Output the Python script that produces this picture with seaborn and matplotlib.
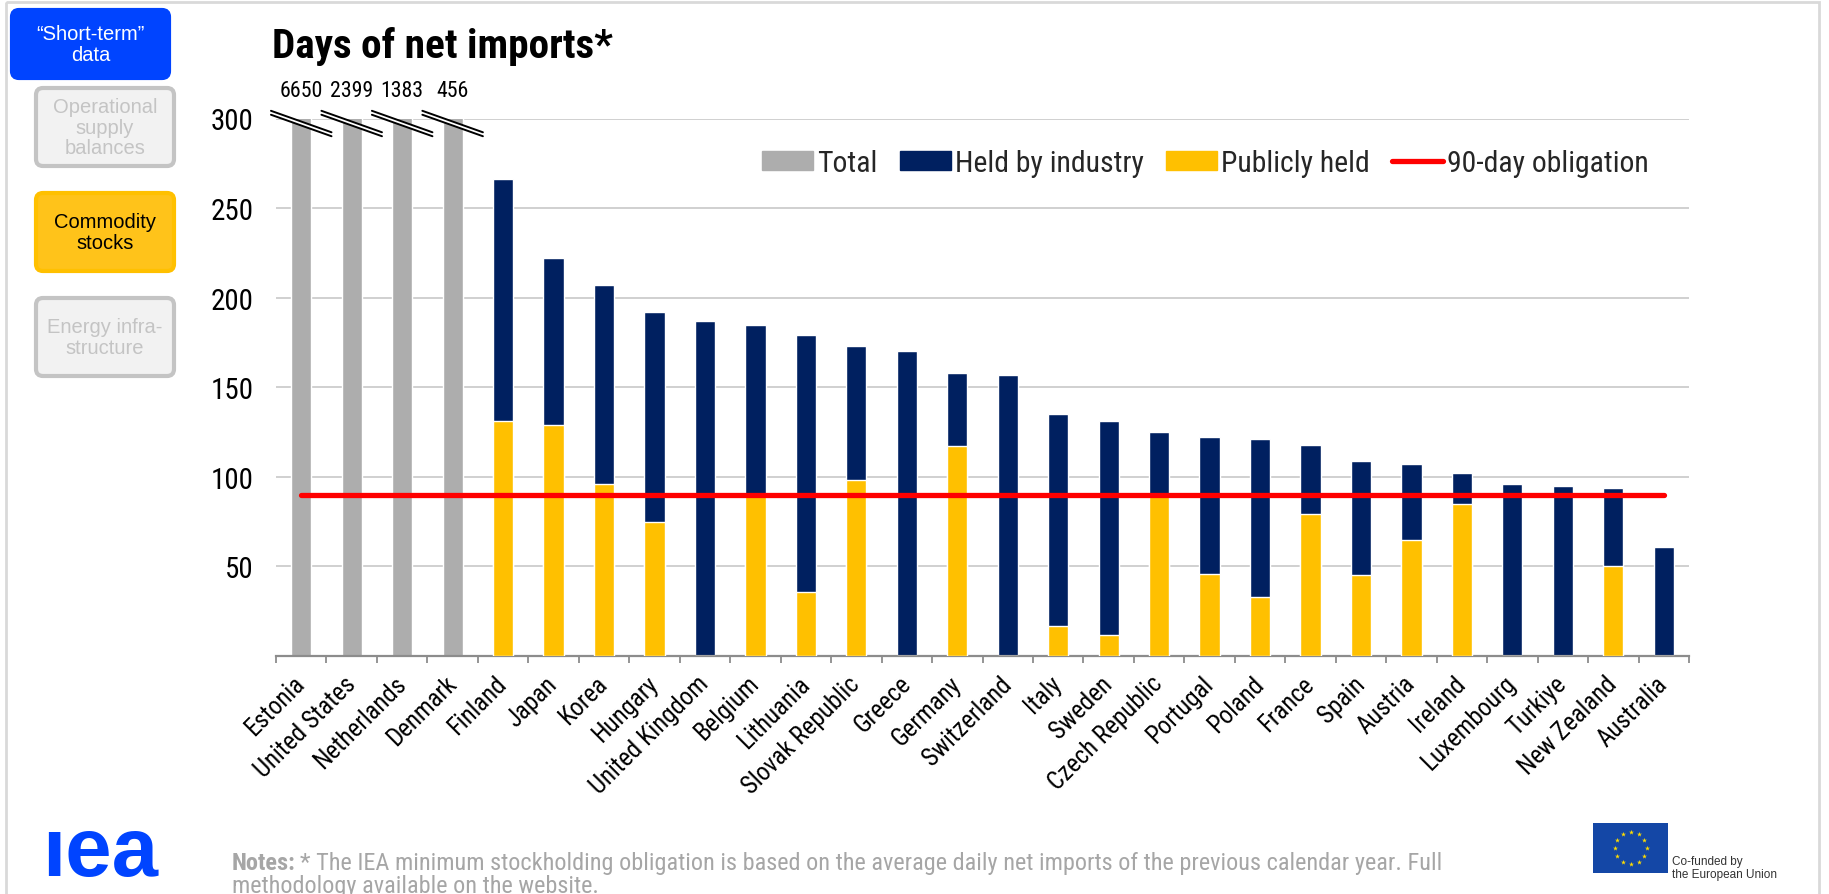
import numpy as np
import pandas as pd
import matplotlib
matplotlib.use("Agg")
import matplotlib.pyplot as plt
from matplotlib import font_manager as fm
from matplotlib.patches import FancyBboxPatch, Rectangle, Patch
from matplotlib.lines import Line2D
import seaborn as sns

# ---- data -------------------------------------------------------------
countries = ["Estonia", "United States", "Netherlands", "Denmark", "Finland",
             "Japan", "Korea", "Hungary", "United Kingdom", "Belgium",
             "Lithuania", "Slovak Republic", "Greece", "Germany", "Switzerland",
             "Italy", "Sweden", "Czech Republic", "Portugal", "Poland", "France",
             "Spain", "Austria", "Ireland", "Luxembourg", "Turkiye",
             "New Zealand", "Australia"]
total_days = [6650, 2399, 1383, 456, 266, 222, 207, 192, 187, 185, 179, 173,
              170, 158, 157, 135, 131, 125, 122, 121, 118, 109, 107, 102, 96,
              95, 94, 61]
# publicly held days (None = no industry/public split reported)
public_days = [None, None, None, None, 131, 129, 96, 75, 0, 90, 36, 98, 0,
               117, 0, 17, 12, 90, 46, 33, 79, 45, 65, 85, 0, 0, 50, 0]
obligation_days = 90
y_ticks = [50, 100, 150, 200, 250, 300]
y_cap = 300

legend_labels = ["Total", "Held by industry", "Publicly held", "90-day obligation"]

# ---- style --------------------------------------------------------------
GRAY = "#ADADAD"
NAVY = "#002060"
YELLOW = "#FFC000"
RED = "#FF0000"

sns.set_theme(style="white")
names = {f.name for f in fm.fontManager.ttflist}
narrow_pref = ["Liberation Sans Narrow", "Arial Narrow", "Roboto Condensed",
               "Archivo Narrow", "PT Sans Narrow", "Pragati Narrow",
               "Fira Sans Condensed", "IBM Plex Sans Condensed", "Liberation Sans"]
NARROW = next(f for f in narrow_pref if f in names)
NFAM = [NARROW, "DejaVu Sans"]
REG = ["Liberation Sans", "DejaVu Sans"]
plt.rcParams["font.family"] = NFAM

W, H = 1829, 895
fig = plt.figure(figsize=(W / 100, H / 100), dpi=100)
fig.patch.set_facecolor("white")
renderer = fig.canvas.get_renderer()


def fit_size(s, target_px, weight="normal", family=NFAM):
    """Font size (pt) at which string s is target_px wide."""
    t = fig.text(0, 0, s, fontsize=20, fontweight=weight, family=family)
    w = t.get_window_extent(renderer=renderer).width
    t.remove()
    return 20 * target_px / w


size_y = fit_size("300", 43)
size_x = fit_size("United Kingdom", 156)
size_leg = fit_size("Held by industry", 188)
size_val = fit_size("6650", 43)
size_title = fit_size("Days of net imports*", 340, weight="bold")

# overlay in pixel coordinates for page furniture
ov = fig.add_axes([0, 0, 1, 1], zorder=-1)
ov.set_xlim(0, W)
ov.set_ylim(H, 0)
ov.axis("off")

# main chart axes
ax_l, ax_r, ax_t, ax_b = 276, 1689, 119.5, 657
ax = fig.add_axes([ax_l / W, 1 - ax_b / H, (ax_r - ax_l) / W, (ax_b - ax_t) / H])
ax.set_facecolor("none")

df = pd.DataFrame({
    "country": countries,
    "total": total_days,
    "public": [np.nan if v is None else v for v in public_days],
})
df["kind"] = np.where(df["public"].isna(), "Total", "Held by industry")

sns.barplot(data=df, x="country", y="total", hue="kind", order=countries,
            hue_order=["Total", "Held by industry"],
            palette={"Total": GRAY, "Held by industry": NAVY},
            dodge=False, width=0.4, saturation=1, errorbar=None,
            legend=False, ax=ax, zorder=2)
sns.barplot(data=df.dropna(subset=["public"]), x="country", y="public",
            order=countries, color=YELLOW, width=0.4, saturation=1,
            errorbar=None, ax=ax, zorder=3)

n = len(countries)
ax.plot([0, n - 1], [obligation_days, obligation_days], color=RED, lw=3.8,
        solid_capstyle="round", zorder=4)

ax.set_xlim(-0.5, n - 0.5)
ax.set_ylim(0, y_cap)
ax.set_yticks(y_ticks)
ax.yaxis.grid(True, color="#C8C8C8", lw=1.2, zorder=0)
ax.xaxis.grid(False)
ax.set_axisbelow(True)
ax.set_xlabel("")
ax.set_ylabel("")
for s in ["top", "right", "left"]:
    ax.spines[s].set_visible(False)
ax.spines["bottom"].set_color("#8C8C8C")
ax.spines["bottom"].set_linewidth(1.6)
ax.tick_params(axis="y", length=0, pad=16, labelsize=size_y, labelcolor="black")
ax.tick_params(axis="x", which="major", length=0, pad=17, labelsize=size_x,
               labelcolor="black")
ax.set_xticks(np.arange(-0.5, n, 1.0), minor=True)
ax.tick_params(axis="x", which="minor", length=5, width=1.3, color="#8C8C8C",
               direction="out", bottom=True)
ax.set_xticks(range(n))
ax.set_xticklabels(countries, rotation=45, ha="right", va="center",
                   rotation_mode="anchor")

# axis-break marks and true values for bars that exceed the scale
for i, (v, p) in enumerate(zip(total_days, public_days)):
    if p is None and v > y_cap:
        xs = [i - 0.6, i + 0.6]
        ax.fill([i - 0.6, i + 0.6, i + 0.6, i - 0.6],
                [304.3, 292.3, 290.3, 302.3], color="white", zorder=5,
                clip_on=False, lw=0)
        ax.plot(xs, [304.3, 292.3], color="black", lw=1.4, zorder=6, clip_on=False)
        ax.plot(xs, [302.1, 290.1], color="black", lw=1.4, zorder=6, clip_on=False)
        ax.annotate(f"{v}", (i, y_cap), xytext=(0, 20), textcoords="offset points",
                    ha="center", va="center", fontsize=size_val, color="black",
                    annotation_clip=False)

handles = [Patch(color=GRAY), Patch(color=NAVY), Patch(color=YELLOW),
           Line2D([0], [0], color=RED, lw=3.8, solid_capstyle="round")]
ax.legend(handles, legend_labels, loc="center right", bbox_to_anchor=(0.98, 0.917),
          ncol=4, frameon=False, fontsize=size_leg, handlelength=1.7,
          handleheight=0.6, handletextpad=0.15, columnspacing=0.75,
          borderaxespad=0)

# ---- page furniture ---------------------------------------------------------
ov.add_patch(Rectangle((6, 3), 1813, 900, fill=False, ec="#D9D9D9", lw=2))

ov.text(272, 58, "Days of net imports*", fontsize=size_title, fontweight="bold",
        ha="left", va="baseline", color="black")

buttons = [
    ((12, 11, 157, 68), "#0044FF", "#0044FF", "\u201cShort-term\u201d\ndata", "white"),
    ((36, 89, 138, 78), "#F2F2F2", "#C4C4C4", "Operational\nsupply\nbalances", "#C4C4C4"),
    ((36, 194, 138, 78), "#FFC31A", "#FFC000", "Commodity\nstocks", "black"),
    ((36, 299, 138, 78), "#F2F2F2", "#C4C4C4", "Energy infra-\nstructure", "#C4C4C4"),
]
for (x, y, w, h), fc, ec, label, tc in buttons:
    ov.add_patch(FancyBboxPatch((x, y), w, h, boxstyle="round,pad=0,rounding_size=7",
                                fc=fc, ec=ec, lw=3))
    ov.text(x + w / 2, y + h / 2, label, ha="center", va="center", fontsize=14.5,
            color=tc, family=REG, linespacing=1.12)

# IEA wordmark
ov.text(42, 876, "\u0131ea", fontsize=60, fontweight="bold", color="#0044FF",
        family=REG, ha="left", va="baseline")

# notes
notes_color = "#A6A6A6"
notes_rest = ("* The IEA minimum stockholding obligation is based on the average "
              "daily net imports of the previous calendar year. Full")
size_notes = fit_size("Notes: " + notes_rest, 1205)
t1 = ov.text(232, 870, "Notes:", fontsize=size_notes, fontweight="bold",
             color=notes_color, ha="left", va="baseline")
bb = t1.get_window_extent(renderer=renderer)
ov.text(232 + bb.width + 4, 870, notes_rest, fontsize=size_notes,
        color=notes_color, ha="left", va="baseline")
ov.text(232, 893, "methodology available on the website.", fontsize=size_notes,
        color=notes_color, ha="left", va="baseline")

# EU co-funding mark
ov.add_patch(Rectangle((1593, 824), 75, 50, fc="#1447A6", ec="none"))
cx, cy, r = 1630.5, 849, 16
ang = np.linspace(0, 2 * np.pi, 12, endpoint=False)
ov.scatter(cx + r * np.cos(ang), cy + r * np.sin(ang), marker="*", s=14,
           color="#FFDD00", lw=0)
ov.text(1672, 862, "Co-funded by", fontsize=8.5, color="#333333", family=REG,
        ha="left", va="center")
ov.text(1672, 875, "the European Union", fontsize=8.5, color="#333333",
        family=REG, ha="left", va="center")

fig.savefig("out.png", dpi=100)
